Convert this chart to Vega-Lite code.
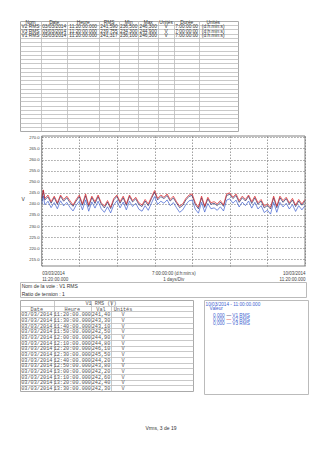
{
  "$schema": "https://vega.github.io/schema/vega-lite/v6.json",
  "background": "white",
  "padding": {"left": 19, "top": 19, "right": 0, "bottom": 0},
  "config": {"font": "Liberation Sans", "view": {"stroke": "#aaa"}},
  "title": {"text": "Vrms, 3 de 19", "orient": "bottom", "anchor": "middle", "fontSize": 5, "fontWeight": "normal", "font": "Liberation Sans", "color": "#333", "offset": 31, "dx": -3},
  "spacing": 0,
  "columns": 1,
  "align": "none",
  "concat": [
    {
      "spacing": 3,
      "columns": 1,
      "align": "none",
      "concat": [
        {
          "width": 218,
          "height": 110,
          "view": {"stroke": "#aaa"},
          "data": {"values": [
            {"r": 0, "c": 0, "t": "Nom"}, {"r": 0, "c": 1, "t": "Date"}, {"r": 0, "c": 2, "t": "Heure"}, {"r": 0, "c": 3, "t": "RMS"}, {"r": 0, "c": 4, "t": "Min"}, {"r": 0, "c": 5, "t": "Max"}, {"r": 0, "c": 6, "t": "Unités"}, {"r": 0, "c": 7, "t": "Durée"}, {"r": 0, "c": 8, "t": "Unités"},
            {"r": 1, "c": 0, "t": "V2 RMS"}, {"r": 1, "c": 1, "t": "03/03/2014"}, {"r": 1, "c": 2, "t": "11:20:00.000"}, {"r": 1, "c": 3, "t": "241,590"}, {"r": 1, "c": 4, "t": "236,500"}, {"r": 1, "c": 5, "t": "246,300"}, {"r": 1, "c": 6, "t": "V"}, {"r": 1, "c": 7, "t": "7:00:00:00"}, {"r": 1, "c": 8, "t": "(d:h:min:s)"},
            {"r": 2, "c": 0, "t": "V3 RMS"}, {"r": 2, "c": 1, "t": "03/03/2014"}, {"r": 2, "c": 2, "t": "11:20:00.000"}, {"r": 2, "c": 3, "t": "239,755"}, {"r": 2, "c": 4, "t": "234,300"}, {"r": 2, "c": 5, "t": "244,900"}, {"r": 2, "c": 6, "t": "V"}, {"r": 2, "c": 7, "t": "7:00:00:00"}, {"r": 2, "c": 8, "t": "(d:h:min:s)"},
            {"r": 3, "c": 0, "t": "V1 RMS"}, {"r": 3, "c": 1, "t": "03/03/2014"}, {"r": 3, "c": 2, "t": "11:20:00.000"}, {"r": 3, "c": 3, "t": "241,317"}, {"r": 3, "c": 4, "t": "236,100"}, {"r": 3, "c": 5, "t": "246,300"}, {"r": 3, "c": 6, "t": "V"}, {"r": 3, "c": 7, "t": "7:00:00:00"}, {"r": 3, "c": 8, "t": "(d:h:min:s)"}
          ]},
          "mark": {"type": "text", "font": "Liberation Sans", "fontSize": 4.8, "color": "#333", "baseline": "middle", "align": "center"},
          "encoding": {
            "x": {"field": "c", "type": "quantitative",
              "scale": {"domain": [-0.5, 0, 0.5, 1, 1.5, 2, 2.5, 3, 3.5, 4, 4.5, 5, 5.5, 6, 6.5, 7, 7.5, 8, 8.5],
                        "range": [0, 10.5, 21, 34.2, 47.4, 63.2, 79, 89, 99, 108.7, 118.4, 128.2, 138, 146, 154, 166.7, 179.4, 193.2, 218],
                        "nice": false, "zero": false},
              "axis": {"values": [0.5, 1.5, 2.5, 3.5, 4.5, 5.5, 6.5, 7.5], "labels": false, "ticks": false, "domain": false, "title": null, "grid": true, "gridColor": "#bbb", "gridWidth": 0.8}},
            "y": {"field": "r", "type": "quantitative",
              "scale": {"domain": [-0.5, 25.5], "reverse": true, "nice": false, "zero": false},
              "axis": {"values": [0.5, 1.5, 2.5, 3.5, 4.5, 5.5, 6.5, 7.5, 8.5, 9.5, 10.5, 11.5, 12.5, 13.5, 14.5, 15.5, 16.5, 17.5, 18.5, 19.5, 20.5, 21.5, 22.5, 23.5, 24.5], "labels": false, "ticks": false, "domain": false, "title": null, "grid": true, "gridColor": "#bbb", "gridWidth": 0.8}},
            "text": {"field": "t"}
          }
        },
        {
          "width": 285,
          "height": 130,
          "view": {"stroke": null},
          "layer": [
            {
              "data": {"values": [
                {"h": 0, "V1": 241.4, "V2": 242.5, "V3": 239.8},
                {"h": 1, "V1": 246.0, "V2": 246.3, "V3": 243.6},
                {"h": 2, "V1": 241.8, "V2": 242.5, "V3": 239.6},
                {"h": 4, "V1": 243.2, "V2": 244.0, "V3": 241.2},
                {"h": 6, "V1": 240.3, "V2": 241.0, "V3": 238.3},
                {"h": 8, "V1": 242.9, "V2": 243.5, "V3": 240.6},
                {"h": 10, "V1": 239.8, "V2": 240.5, "V3": 237.8},
                {"h": 12, "V1": 243.4, "V2": 244.0, "V3": 241.4},
                {"h": 14, "V1": 241.2, "V2": 242.0, "V3": 239.1},
                {"h": 16, "V1": 242.8, "V2": 243.5, "V3": 240.7},
                {"h": 18, "V1": 240.6, "V2": 241.5, "V3": 238.5},
                {"h": 20, "V1": 238.9, "V2": 239.5, "V3": 236.8},
                {"h": 22, "V1": 241.3, "V2": 242.0, "V3": 239.4},
                {"h": 24, "V1": 243.3, "V2": 244.0, "V3": 241.2},
                {"h": 26, "V1": 239.4, "V2": 240.0, "V3": 237.3},
                {"h": 28, "V1": 243.7, "V2": 244.5, "V3": 241.8},
                {"h": 30, "V1": 238.8, "V2": 239.5, "V3": 236.7},
                {"h": 32, "V1": 242.9, "V2": 243.5, "V3": 240.9},
                {"h": 34, "V1": 240.2, "V2": 241.0, "V3": 238.1},
                {"h": 36, "V1": 243.3, "V2": 244.0, "V3": 241.2},
                {"h": 38, "V1": 239.9, "V2": 240.5, "V3": 237.8},
                {"h": 40, "V1": 238.2, "V2": 239.0, "V3": 236.2},
                {"h": 42, "V1": 240.8, "V2": 241.5, "V3": 238.7},
                {"h": 44, "V1": 237.9, "V2": 238.5, "V3": 235.9},
                {"h": 46, "V1": 241.8, "V2": 242.5, "V3": 239.6},
                {"h": 48, "V1": 243.4, "V2": 244.0, "V3": 241.4},
                {"h": 50, "V1": 240.3, "V2": 241.0, "V3": 238.2},
                {"h": 52, "V1": 242.8, "V2": 243.5, "V3": 240.8},
                {"h": 54, "V1": 239.3, "V2": 240.0, "V3": 237.3},
                {"h": 56, "V1": 243.4, "V2": 244.0, "V3": 241.2},
                {"h": 58, "V1": 240.9, "V2": 241.5, "V3": 238.8},
                {"h": 60, "V1": 242.3, "V2": 243.0, "V3": 240.3},
                {"h": 62, "V1": 239.7, "V2": 240.5, "V3": 237.6},
                {"h": 64, "V1": 238.8, "V2": 239.5, "V3": 236.7},
                {"h": 66, "V1": 241.3, "V2": 242.0, "V3": 239.2},
                {"h": 68, "V1": 239.2, "V2": 240.0, "V3": 237.1},
                {"h": 70, "V1": 242.4, "V2": 243.0, "V3": 240.3},
                {"h": 72, "V1": 245.3, "V2": 246.0, "V3": 243.3},
                {"h": 74, "V1": 241.8, "V2": 242.5, "V3": 239.8},
                {"h": 76, "V1": 243.3, "V2": 244.0, "V3": 241.2},
                {"h": 78, "V1": 242.4, "V2": 243.0, "V3": 240.3},
                {"h": 80, "V1": 243.8, "V2": 244.5, "V3": 241.8},
                {"h": 82, "V1": 241.3, "V2": 242.0, "V3": 239.2},
                {"h": 84, "V1": 242.7, "V2": 243.5, "V3": 240.6},
                {"h": 86, "V1": 240.4, "V2": 241.0, "V3": 238.3},
                {"h": 88, "V1": 238.3, "V2": 239.0, "V3": 236.2},
                {"h": 90, "V1": 239.3, "V2": 240.0, "V3": 237.3},
                {"h": 92, "V1": 241.8, "V2": 242.5, "V3": 239.7},
                {"h": 94, "V1": 243.4, "V2": 244.0, "V3": 241.4},
                {"h": 96, "V1": 243.8, "V2": 244.5, "V3": 241.7},
                {"h": 98, "V1": 239.7, "V2": 240.5, "V3": 237.6},
                {"h": 100, "V1": 237.8, "V2": 238.5, "V3": 235.8},
                {"h": 102, "V1": 242.8, "V2": 243.5, "V3": 240.7},
                {"h": 104, "V1": 238.4, "V2": 239.0, "V3": 236.3},
                {"h": 106, "V1": 242.3, "V2": 243.0, "V3": 240.2},
                {"h": 108, "V1": 239.8, "V2": 240.5, "V3": 237.8},
                {"h": 110, "V1": 240.3, "V2": 241.0, "V3": 238.2},
                {"h": 112, "V1": 239.2, "V2": 240.0, "V3": 237.1},
                {"h": 114, "V1": 240.8, "V2": 241.5, "V3": 238.7},
                {"h": 116, "V1": 238.9, "V2": 239.5, "V3": 236.8},
                {"h": 118, "V1": 243.8, "V2": 244.5, "V3": 241.7},
                {"h": 120, "V1": 244.3, "V2": 245.0, "V3": 242.3},
                {"h": 122, "V1": 242.4, "V2": 243.0, "V3": 240.3},
                {"h": 124, "V1": 243.8, "V2": 244.5, "V3": 241.7},
                {"h": 126, "V1": 240.7, "V2": 241.5, "V3": 238.6},
                {"h": 128, "V1": 242.8, "V2": 243.5, "V3": 240.8},
                {"h": 130, "V1": 241.3, "V2": 242.0, "V3": 239.2},
                {"h": 132, "V1": 243.4, "V2": 244.0, "V3": 241.3},
                {"h": 134, "V1": 240.2, "V2": 241.0, "V3": 238.1},
                {"h": 136, "V1": 242.8, "V2": 243.5, "V3": 240.7},
                {"h": 138, "V1": 239.8, "V2": 240.5, "V3": 237.7},
                {"h": 140, "V1": 241.3, "V2": 242.0, "V3": 239.2},
                {"h": 142, "V1": 238.2, "V2": 239.0, "V3": 236.1},
                {"h": 144, "V1": 239.3, "V2": 240.0, "V3": 237.2},
                {"h": 146, "V1": 237.7, "V2": 238.5, "V3": 235.4},
                {"h": 148, "V1": 242.8, "V2": 243.5, "V3": 240.7},
                {"h": 150, "V1": 238.3, "V2": 239.0, "V3": 236.2},
                {"h": 152, "V1": 242.8, "V2": 243.5, "V3": 240.7},
                {"h": 154, "V1": 240.7, "V2": 241.5, "V3": 238.6},
                {"h": 156, "V1": 242.4, "V2": 243.0, "V3": 240.3},
                {"h": 158, "V1": 239.8, "V2": 240.5, "V3": 237.7},
                {"h": 160, "V1": 241.8, "V2": 242.5, "V3": 239.7},
                {"h": 162, "V1": 238.8, "V2": 239.5, "V3": 236.6},
                {"h": 164, "V1": 241.3, "V2": 242.0, "V3": 239.2},
                {"h": 166, "V1": 239.4, "V2": 240.0, "V3": 237.3},
                {"h": 168, "V1": 241.3, "V2": 242.0, "V3": 239.2}
              ]},
              "transform": [{"fold": ["V3", "V1", "V2"], "as": ["serie", "val"]}],
              "mark": {"type": "line", "strokeWidth": 0.7},
              "encoding": {
                "x": {"field": "h", "type": "quantitative",
                  "scale": {"domain": [0, 168], "range": [21.7, 285], "nice": false, "zero": false},
                  "axis": {"title": null, "values": [0, 24, 48, 72, 96, 120, 144, 168, 84], "ticks": false, "domain": false,
                    "grid": true, "gridDash": [1.5, 1.5], "gridColor": "#777", "gridWidth": 0.7,
                    "gridOpacity": {"condition": {"test": "datum.value == 84", "value": 0}, "value": 1},
                    "labelExpr": "datum.value == 0 ? ['03/03/2014', '11:20:00.000'] : datum.value == 168 ? ['10/03/2014', '11:20:00.000'] : datum.value == 84 ? ['7:00:00:00 (d:h:min:s)', '1 days/Div'] : ''",
                    "labelFlush": true, "labelOverlap": false, "labelBound": false, "labelFontSize": 4.5, "labelColor": "#444", "labelLineHeight": 6.3, "labelPadding": 4}},
                "y": {"field": "val", "type": "quantitative",
                  "scale": {"domain": [212, 270.6], "nice": false, "zero": false},
                  "axis": {"title": "V", "titleAngle": 0, "titleFontSize": 5, "titleFontWeight": "normal", "titleColor": "#333", "titlePadding": 6, "offset": -21.7,
                    "values": [215, 220, 225, 230, 235, 240, 245, 250, 255, 260, 265, 270], "format": ".1f",
                    "labelFontSize": 4.2, "labelColor": "#444", "labelPadding": 2.5, "ticks": false, "domain": false,
                    "grid": true, "gridDash": [1.5, 1.5], "gridColor": "#777", "gridWidth": 0.7}},
                "color": {"field": "serie", "type": "nominal", "scale": {"domain": ["V3", "V1", "V2"], "range": ["#3d5fd0", "#232360", "#e02525"]}, "legend": null}
              }
            },
            {
              "data": {"values": [{}]},
              "mark": {"type": "rect", "filled": false, "color": "#666", "strokeWidth": 0.8},
              "encoding": {
                "x": {"datum": 0, "type": "quantitative",
                  "scale": {"domain": [0, 168], "range": [21.7, 285], "nice": false, "zero": false},
                  "axis": {"title": null, "values": [0, 24, 48, 72, 96, 120, 144, 168, 84], "ticks": false, "domain": false,
                    "grid": true, "gridDash": [1.5, 1.5], "gridColor": "#777", "gridWidth": 0.7,
                    "gridOpacity": {"condition": {"test": "datum.value == 84", "value": 0}, "value": 1},
                    "labelExpr": "datum.value == 0 ? ['03/03/2014', '11:20:00.000'] : datum.value == 168 ? ['10/03/2014', '11:20:00.000'] : datum.value == 84 ? ['7:00:00:00 (d:h:min:s)', '1 days/Div'] : ''",
                    "labelFlush": true, "labelOverlap": false, "labelBound": false, "labelFontSize": 4.5, "labelColor": "#444", "labelLineHeight": 6.3, "labelPadding": 4}},
                "x2": {"datum": 168},
                "y": {"datum": 212, "type": "quantitative",
                  "scale": {"domain": [212, 270.6], "nice": false, "zero": false},
                  "axis": {"title": "V", "titleAngle": 0, "titleFontSize": 5, "titleFontWeight": "normal", "titleColor": "#333", "titlePadding": 6, "offset": -21.7,
                    "values": [215, 220, 225, 230, 235, 240, 245, 250, 255, 260, 265, 270], "format": ".1f",
                    "labelFontSize": 4.2, "labelColor": "#444", "labelPadding": 2.5, "ticks": false, "domain": false,
                    "grid": true, "gridDash": [1.5, 1.5], "gridColor": "#777", "gridWidth": 0.7}},
                "y2": {"datum": 270.6}
              }
            }
          ]
        }
      ]
    },
    {
      "spacing": 1,
      "columns": 1,
      "align": "none",
      "concat": [
        {
          "width": 286,
          "height": 15,
          "view": {"stroke": "#bbb"},
          "data": {"values": [{"r": 0, "t": "Nom de la voie : V1 RMS"}, {"r": 1, "t": "Ratio de tension : 1"}]},
          "mark": {"type": "text", "align": "left", "baseline": "middle", "dx": 1.7, "font": "Liberation Sans", "fontSize": 5, "color": "#333"},
          "encoding": {
            "x": {"value": 0},
            "y": {"field": "r", "type": "quantitative", "scale": {"domain": [-0.4625, 1.4125], "reverse": true, "nice": false, "zero": false}, "axis": null},
            "text": {"field": "t"}
          }
        },
        {
          "spacing": 9,
          "columns": 2,
          "align": "none",
          "concat": [
            {
              "width": 173,
              "height": 91,
              "view": {"stroke": "#aaa"},
              "data": {"values": [
                {"r": 0, "c": 2, "t": "V1 RMS (V)"},
                {"r": 1, "c": 0, "t": "Date"}, {"r": 1, "c": 1, "t": "Heure"}, {"r": 1, "c": 2, "t": "Val"}, {"r": 1, "c": 3, "t": "Unités"},
                {"r": 2, "c": 0, "t": "03/03/2014"}, {"r": 2, "c": 1, "t": "11:20:00.000"}, {"r": 2, "c": 2, "t": "241,40"}, {"r": 2, "c": 3, "t": "V"},
                {"r": 3, "c": 0, "t": "03/03/2014"}, {"r": 3, "c": 1, "t": "11:30:00.000"}, {"r": 3, "c": 2, "t": "243,30"}, {"r": 3, "c": 3, "t": "V"},
                {"r": 4, "c": 0, "t": "03/03/2014"}, {"r": 4, "c": 1, "t": "11:40:00.000"}, {"r": 4, "c": 2, "t": "243,10"}, {"r": 4, "c": 3, "t": "V"},
                {"r": 5, "c": 0, "t": "03/03/2014"}, {"r": 5, "c": 1, "t": "11:50:00.000"}, {"r": 5, "c": 2, "t": "242,50"}, {"r": 5, "c": 3, "t": "V"},
                {"r": 6, "c": 0, "t": "03/03/2014"}, {"r": 6, "c": 1, "t": "12:00:00.000"}, {"r": 6, "c": 2, "t": "244,90"}, {"r": 6, "c": 3, "t": "V"},
                {"r": 7, "c": 0, "t": "03/03/2014"}, {"r": 7, "c": 1, "t": "12:10:00.000"}, {"r": 7, "c": 2, "t": "244,80"}, {"r": 7, "c": 3, "t": "V"},
                {"r": 8, "c": 0, "t": "03/03/2014"}, {"r": 8, "c": 1, "t": "12:20:00.000"}, {"r": 8, "c": 2, "t": "246,10"}, {"r": 8, "c": 3, "t": "V"},
                {"r": 9, "c": 0, "t": "03/03/2014"}, {"r": 9, "c": 1, "t": "12:30:00.000"}, {"r": 9, "c": 2, "t": "245,50"}, {"r": 9, "c": 3, "t": "V"},
                {"r": 10, "c": 0, "t": "03/03/2014"}, {"r": 10, "c": 1, "t": "12:40:00.000"}, {"r": 10, "c": 2, "t": "244,20"}, {"r": 10, "c": 3, "t": "V"},
                {"r": 11, "c": 0, "t": "03/03/2014"}, {"r": 11, "c": 1, "t": "12:50:00.000"}, {"r": 11, "c": 2, "t": "243,80"}, {"r": 11, "c": 3, "t": "V"},
                {"r": 12, "c": 0, "t": "03/03/2014"}, {"r": 12, "c": 1, "t": "13:00:00.000"}, {"r": 12, "c": 2, "t": "242,20"}, {"r": 12, "c": 3, "t": "V"},
                {"r": 13, "c": 0, "t": "03/03/2014"}, {"r": 13, "c": 1, "t": "13:10:00.000"}, {"r": 13, "c": 2, "t": "242,60"}, {"r": 13, "c": 3, "t": "V"},
                {"r": 14, "c": 0, "t": "03/03/2014"}, {"r": 14, "c": 1, "t": "13:20:00.000"}, {"r": 14, "c": 2, "t": "242,40"}, {"r": 14, "c": 3, "t": "V"},
                {"r": 15, "c": 0, "t": "03/03/2014"}, {"r": 15, "c": 1, "t": "13:30:00.000"}, {"r": 15, "c": 2, "t": "242,30"}, {"r": 15, "c": 3, "t": "V"}
              ]},
              "mark": {"type": "text", "font": "Liberation Mono", "fontSize": 5.2, "color": "#555", "baseline": "middle", "align": "center"},
              "encoding": {
                "x": {"field": "c", "type": "quantitative",
                  "scale": {"domain": [-0.5, 0, 0.5, 1, 1.5, 2, 2.5, 3, 3.5], "range": [0, 16.8, 33.6, 52.3, 71, 81, 91, 103, 173], "nice": false, "zero": false},
                  "axis": {"values": [0.5, 1.5, 2.5], "labels": false, "ticks": false, "domain": false, "title": null, "grid": true, "gridColor": "#bbb", "gridWidth": 0.8}},
                "y": {"field": "r", "type": "quantitative",
                  "scale": {"domain": [-0.5, 15.5], "reverse": true, "nice": false, "zero": false},
                  "axis": {"values": [0.5, 1.5, 2.5, 3.5, 4.5, 5.5, 6.5, 7.5, 8.5, 9.5, 10.5, 11.5, 12.5, 13.5, 14.5], "labels": false, "ticks": false, "domain": false, "title": null, "grid": true, "gridColor": "#bbb", "gridWidth": 0.8}},
                "text": {"field": "t"}
              }
            },
            {
              "width": 104,
              "height": 94,
              "view": {"stroke": "#bbb"},
              "data": {"values": [
                {"r": 0, "c": 0, "t": "10/03/2014 - 11:00:00.000", "s": "txt"},
                {"r": 1, "c": 1, "t": "Valeur", "s": "txt"},
                {"r": 3, "c": 2, "t": "0,000", "s": "txt"},
                {"r": 4, "c": 2, "t": "0,000", "s": "txt"},
                {"r": 5, "c": 2, "t": "0,000", "s": "txt"},
                {"r": 3, "c": 3, "t": "—", "s": "V1 RMS"},
                {"r": 4, "c": 3, "t": "—", "s": "V2 RMS"},
                {"r": 5, "c": 3, "t": "—", "s": "V3 RMS"},
                {"r": 3, "c": 4, "t": "V1 RMS", "s": "txt"},
                {"r": 4, "c": 4, "t": "V2 RMS", "s": "txt"},
                {"r": 5, "c": 4, "t": "V3 RMS", "s": "txt"}
              ]},
              "mark": {"type": "text", "font": "Liberation Sans", "fontSize": 4.7, "align": "left", "baseline": "middle"},
              "encoding": {
                "x": {"field": "c", "type": "quantitative", "scale": {"domain": [0, 1, 2, 3, 4], "range": [1.6, 5.6, 9, 22.6, 28.3], "nice": false, "zero": false}, "axis": null},
                "y": {"field": "r", "type": "quantitative", "scale": {"domain": [-1.45, 24.3], "reverse": true, "nice": false, "zero": false}, "axis": null},
                "color": {"field": "s", "type": "nominal", "scale": {"domain": ["txt", "V1 RMS", "V2 RMS", "V3 RMS"], "range": ["#333333", "#232360", "#e02525", "#3d5fd0"]}, "legend": null},
                "text": {"field": "t"}
              }
            }
          ]
        }
      ]
    }
  ]
}
